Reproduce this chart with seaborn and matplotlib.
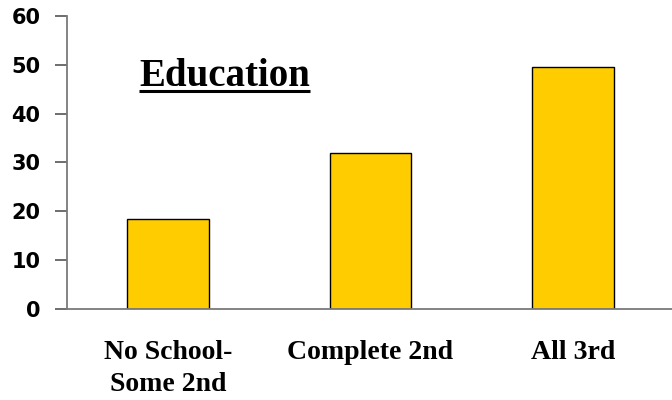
import matplotlib
matplotlib.use("Agg")
import matplotlib.pyplot as plt
from matplotlib.lines import Line2D
import seaborn as sns
import pandas as pd

# Share of respondents by education level
categories = ["No School-\nSome 2nd", "Complete 2nd", "All 3rd"]
values = [18.4, 31.9, 49.5]
y_ticks = [0, 10, 20, 30, 40, 50, 60]
title_text = "Education"

df = pd.DataFrame({"education": categories, "value": values})

sns.set_theme(style="white")
plt.rcParams["font.family"] = ["DejaVu Sans"]
plt.rcParams["text.color"] = "black"

fig = plt.figure(figsize=(6.72, 4.0), dpi=100)
ax = fig.add_axes([0.0997, 0.2275, 0.9033, 0.7325])

sns.barplot(data=df, x="education", y="value", color="#FFCC00",
            saturation=1, width=0.405, edgecolor="black", linewidth=1.0,
            ax=ax)

ax.set_xlim(-0.5, 2.5)
ax.set_ylim(0, 60)
ax.set_yticks(y_ticks)
ax.set_yticklabels([str(t) for t in y_ticks], fontsize=15, fontweight="bold",
                   family="DejaVu Sans")

# category labels sit between boundary ticks
ax.set_xticks([0, 1, 2])
ax.set_xticklabels(categories, fontsize=20, fontweight="bold",
                   family="Liberation Serif", linespacing=1.4)
ax.tick_params(axis="x", length=0, pad=22, labelcolor="black")
ax.set_xticks([-0.5, 0.5, 1.5, 2.5], minor=True)
ax.tick_params(axis="x", which="minor", direction="out", length=8,
               width=1.2, color="black")
ax.tick_params(axis="y", direction="out", length=9, width=1.2,
               color="#555555", pad=10, left=True, labelcolor="black")

ax.set_xlabel("")
ax.set_ylabel("")
for side in ("top", "right"):
    ax.spines[side].set_visible(False)
for side in ("left", "bottom"):
    ax.spines[side].set_color("#7a7a7a")
    ax.spines[side].set_linewidth(1.3)

title_y = 0.762
title = ax.text(0.2595, title_y, title_text, transform=ax.transAxes,
                ha="center", va="baseline", fontsize=28, fontweight="bold",
                family="Liberation Serif", color="black")

# underline the heading, measured from its rendered extent
fig.canvas.draw()
bb = title.get_window_extent(renderer=fig.canvas.get_renderer())
base_y = ax.transAxes.transform((0, title_y))[1]
inv = fig.transFigure.inverted()
(x0, y0) = inv.transform((bb.x0, base_y - 5))
(x1, _) = inv.transform((bb.x1, base_y - 5))
fig.add_artist(Line2D([x0, x1], [y0, y0], transform=fig.transFigure,
                      color="black", linewidth=2.2, solid_capstyle="butt"))

fig.savefig("out.png", dpi=100)
